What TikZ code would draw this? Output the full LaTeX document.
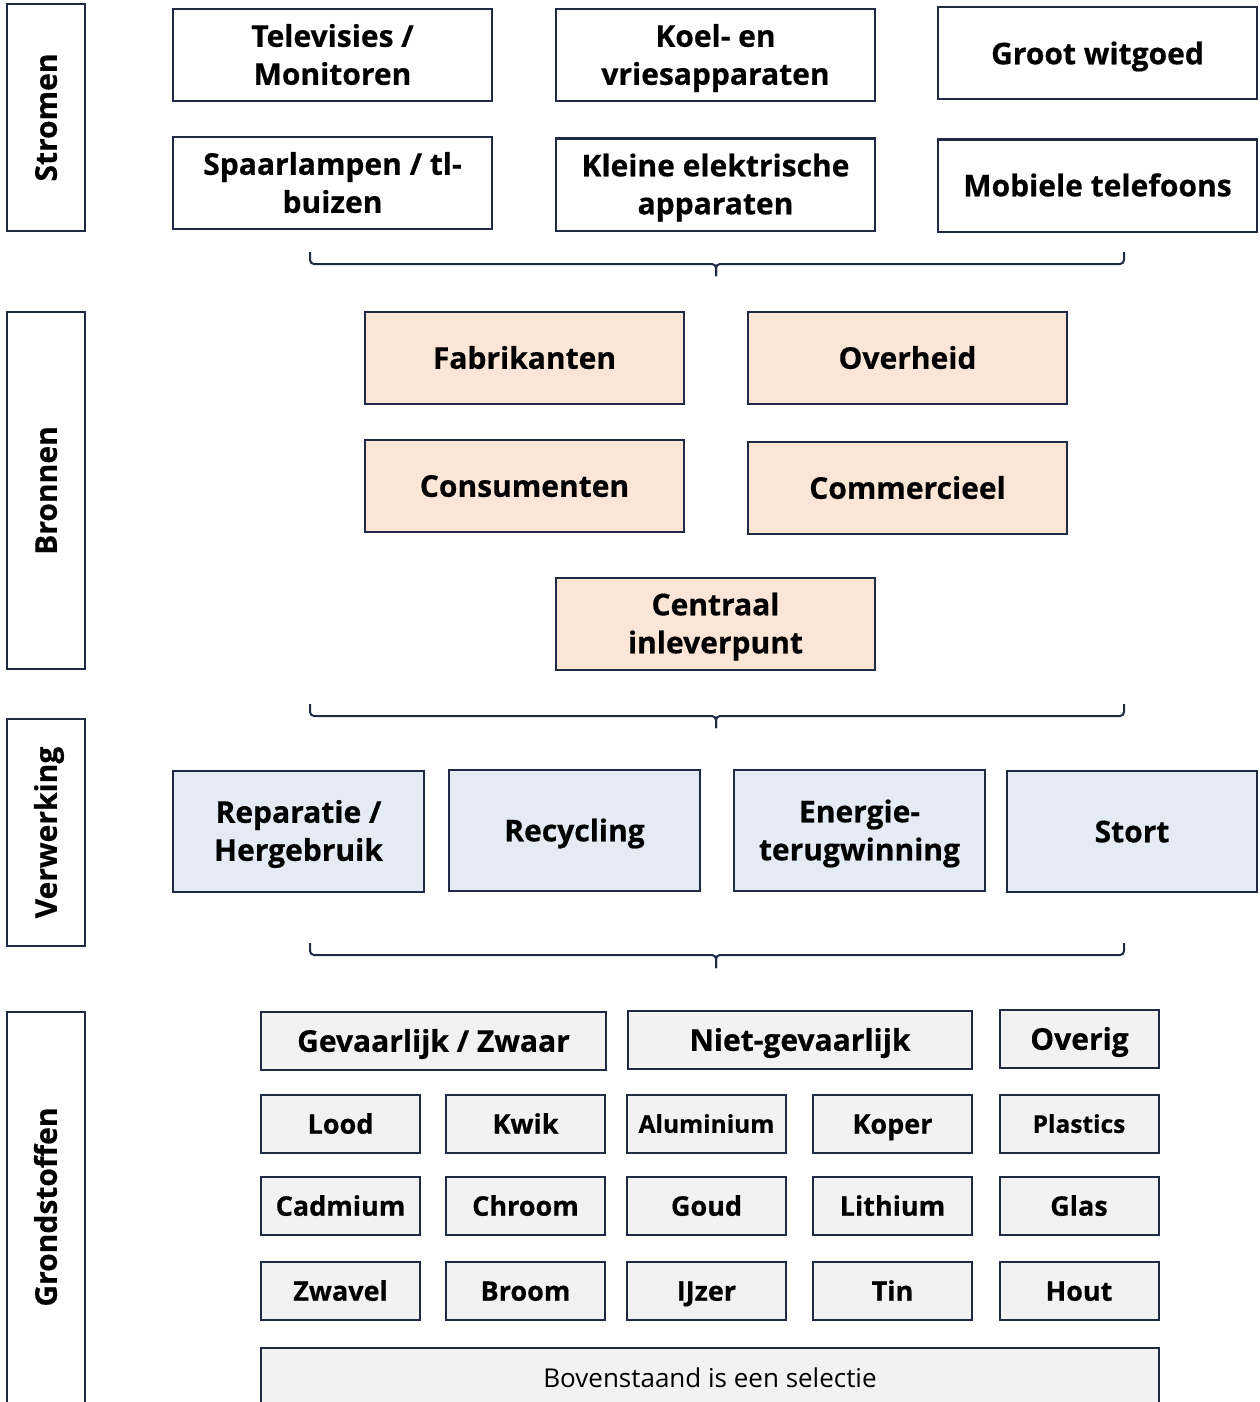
\documentclass[tikz,border=0pt]{standalone}
\usepackage{fontspec}
\setmainfont{Open Sans}[BoldFeatures={FakeBold=0.5}]
\newcommand\tline[1]{\raisebox{0pt}[0.72em][0pt]{#1}}
\begin{document}
\begin{tikzpicture}[x=1pt,y=-1pt,
  every node/.style={inner sep=0pt, align=center, font=\bfseries\fontsize{30}{38}\selectfont},
  base/.style={draw=navy, line width=2pt, rectangle},
  side/.style={base, fill=white, minimum width=78pt},
  strm/.style={base, fill=white, minimum width=319pt, minimum height=92pt},
  bron/.style={base, fill=peach, minimum width=319pt, minimum height=92pt},
  verw/.style={base, fill=lblue, minimum width=251pt, minimum height=121pt},
  grhead/.style={base, fill=lgray, minimum height=58pt},
  gritem/.style={base, fill=lgray, minimum width=159pt, minimum height=58pt, font=\bfseries\fontsize{27}{32}\selectfont},
  gritemsm/.style={gritem, font=\bfseries\fontsize{24.5}{30}\selectfont},
  brace/.style={draw=navy, line width=2pt, rounded corners=4pt}
]
\definecolor{navy}{HTML}{1F2A44}
\definecolor{peach}{HTML}{FBE5D6}
\definecolor{lblue}{HTML}{E5EBF5}
\definecolor{lgray}{HTML}{F2F2F2}
\useasboundingbox (0,0) rectangle (1260,1402);

% side labels
\node[side, minimum height=227pt] (sStromen) at (46,117.5) {};
\node[rotate=90] (tStromen) at (46,117.5) {\tline{Stromen}};
\node[side, minimum height=357pt] (sBronnen) at (46,490.5) {};
\node[rotate=90] (tBronnen) at (46,490.5) {\tline{Bronnen}};
\node[side, minimum height=227pt] (sVerw) at (46,832.5) {};
\node[rotate=90] (tVerw) at (46,832.5) {\tline{Verwerking}};
\path[draw=navy, line width=2pt, fill=white] (7,1412) -- (7,1012) -- (85,1012) -- (85,1412);
\node[rotate=90] (tGrond) at (46,1207) {\tline{Grondstoffen}};

% Stromen
\node[strm] (tv) at (332.5,55) {\tline{Televisies /}\\\tline{Monitoren}};
\node[strm] (koel) at (715.5,55) {\tline{Koel- en}\\\tline{vriesapparaten}};
\node[strm] (groot) at (1097.5,53.5) {\tline{Groot witgoed}};
\node[strm] (spaar) at (332.5,183) {\tline{Spaarlampen / tl-}\\\tline{buizen}};
\node[strm] (klein) at (715.5,184.5) {\tline{Kleine elektrische}\\\tline{apparaten}};
\node[strm] (mob) at (1097.5,185.5) {\tline{Mobiele telefoons}};

% brace 1
\coordinate (b1l) at (310,252);
\coordinate (b1r) at (1124,252);
\coordinate (b1m) at (716,276);
\draw[brace] (b1l) -- (310,264) -- (716,264) -- (b1m);
\draw[brace] (b1r) -- (1124,264) -- (716,264) -- (b1m);

% Bronnen
\node[bron] (fab) at (524.5,358) {\tline{Fabrikanten}};
\node[bron] (over) at (907.5,358) {\tline{Overheid}};
\node[bron] (cons) at (524.5,486) {\tline{Consumenten}};
\node[bron] (comm) at (907.5,488) {\tline{Commercieel}};
\node[bron] (cent) at (715.5,623.5) {\tline{Centraal}\\\tline{inleverpunt}};

% brace 2
\coordinate (b2l) at (310,704);
\coordinate (b2r) at (1124,704);
\coordinate (b2m) at (716,728);
\draw[brace] (b2l) -- (310,716) -- (716,716) -- (b2m);
\draw[brace] (b2r) -- (1124,716) -- (716,716) -- (b2m);

% Verwerking
\node[verw] (rep) at (298.5,831) {\tline{Reparatie /}\\\tline{Hergebruik}};
\node[verw] (rec) at (574.5,830.5) {\tline{Recycling}};
\node[verw] (ener) at (859.5,830.5) {\tline{Energie-}\\\tline{terugwinning}};
\node[verw, minimum width=250pt] (stort) at (1132,831.5) {\tline{Stort}};

% brace 3
\coordinate (b3l) at (310,943);
\coordinate (b3r) at (1124,943);
\coordinate (b3m) at (716,968);
\draw[brace] (b3l) -- (310,955) -- (716,955) -- (b3m);
\draw[brace] (b3r) -- (1124,955) -- (716,955) -- (b3m);

% Grondstoffen
\node[grhead, minimum width=345pt] (gev) at (433.5,1041) {\tline{Gevaarlijk / Zwaar}};
\node[grhead, minimum width=344pt] (niet) at (800,1040) {\tline{Niet-gevaarlijk}};
\node[grhead, minimum width=159pt] (ovr) at (1079.5,1039) {\tline{Overig}};

\node[gritem] (lood) at (340.5,1124) {\tline{Lood}};
\node[gritem] (kwik) at (525.5,1124) {\tline{Kwik}};
\node[gritemsm] (alu) at (706.5,1124) {\tline{Aluminium}};
\node[gritem] (koper) at (892.5,1124) {\tline{Koper}};
\node[gritemsm] (plas) at (1079,1124) {\tline{Plastics}};

\node[gritem] (cad) at (340.5,1206) {\tline{Cadmium}};
\node[gritem] (chr) at (525.5,1206) {\tline{Chroom}};
\node[gritem] (goud) at (706.5,1206) {\tline{Goud}};
\node[gritem] (lith) at (892.5,1206) {\tline{Lithium}};
\node[gritem] (glas) at (1079,1206) {\tline{Glas}};

\node[gritem] (zwa) at (340.5,1291) {\tline{Zwavel}};
\node[gritem] (broom) at (525.5,1291) {\tline{Broom}};
\node[gritem] (ijzer) at (706.5,1291) {\tline{IJzer}};
\node[gritem] (tin) at (892.5,1291) {\tline{Tin}};
\node[gritem] (hout) at (1079,1291) {\tline{Hout}};

\path[draw=navy, line width=2pt, fill=lgray] (261,1412) -- (261,1348) -- (1159,1348) -- (1159,1412);
\node[font=\fontsize{26}{30}\selectfont] (sel) at (710,1378) {\tline{Bovenstaand is een selectie}};
\end{tikzpicture}
\end{document}
